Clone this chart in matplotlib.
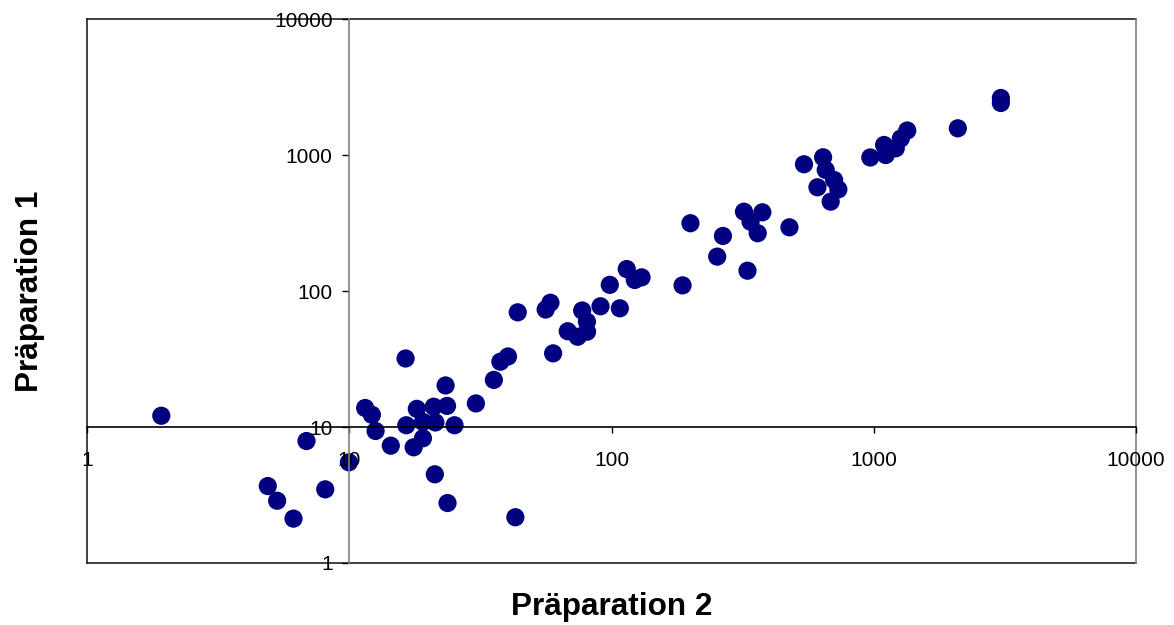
import matplotlib
matplotlib.use("Agg")
import matplotlib.pyplot as plt
from matplotlib.ticker import FixedLocator, FixedFormatter, NullLocator

plt.rcParams['font.family'] = ['Liberation Sans', 'DejaVu Sans']

# Paired measurements: preparation 2 (x) vs preparation 1 (y)
prep2 = [1.92, 4.89, 5.31, 6.13, 6.87, 8.10, 9.97, 11.5, 12.2, 12.6,
         14.4, 16.4, 16.5, 17.6, 18.1, 19.1, 19.1, 21.0, 21.3, 21.2,
         23.3, 23.6, 23.7, 25.2, 30.4, 35.6, 37.7, 40.3, 43.0, 43.9,
         56.1, 58.5, 59.9, 68.1, 74.3, 77.3, 80.6, 80.7, 90.8, 98.5,
         107.6, 114.3, 122.7, 130.2, 186.6, 200, 253, 266, 320, 330,
         339, 376, 361, 477, 542, 641, 656, 706, 610, 733,
         685, 970, 1095, 1111, 1213, 1268, 1342, 2092, 3053, 3053]
prep1 = [12.1, 3.68, 2.87, 2.12, 7.89, 3.48, 5.50, 13.8, 12.3, 9.35,
         7.29, 31.9, 10.3, 7.09, 13.6, 8.26, 10.9, 14.1, 10.8, 4.49,
         20.2, 14.3, 2.76, 10.3, 14.9, 22.2, 30.2, 33.0, 2.17, 69.7,
         73.1, 82.0, 34.8, 50.6, 46.1, 71.9, 59.5, 50.2, 77.2, 111,
         74.6, 145, 120.5, 126, 110, 315, 179, 254, 383, 141,
         323, 379, 266, 294, 855, 962, 776, 655, 579, 559,
         454, 959, 1185, 1000, 1120, 1322, 1514, 1571, 2625, 2412]

ticks = [1, 10, 100, 1000, 10000]
tick_labels = ['1', '10', '100', '1000', '10000']

fig = plt.figure(figsize=(11.74, 6.25), dpi=100)
ax = fig.add_axes([87 / 1174, 1 - 563 / 625, (1136 - 87) / 1174, (563 - 19) / 625])

ax.scatter(prep2, prep1, s=172, color='#000080', edgecolors='none', zorder=1,
           clip_on=False)

ax.set_xscale('log')
ax.set_yscale('log')
ax.set_xlim(1, 10000)
ax.set_ylim(1, 10000)

# Axes cross at (10, 10)
ax.spines['left'].set_position(('data', 10))
ax.spines['bottom'].set_position(('data', 10))
ax.spines['left'].set_color('#808080')
ax.spines['bottom'].set_color('#000000')
for s in ('left', 'bottom'):
    ax.spines[s].set_linewidth(1.2)
ax.spines['top'].set_visible(False)
ax.spines['right'].set_visible(False)

# Plot-area frame
frame_kw = dict(transform=ax.transAxes, clip_on=False, lw=1.2, zorder=0)
ax.plot([0, 0], [0, 1], color='#222222', **frame_kw)
ax.plot([0, 1], [1, 1], color='#222222', **frame_kw)
ax.plot([0, 1], [0, 0], color='#222222', **frame_kw)
ax.plot([1, 1], [0, 1], color='#808080', **frame_kw)

for axis in (ax.xaxis, ax.yaxis):
    axis.set_major_locator(FixedLocator(ticks))
    axis.set_major_formatter(FixedFormatter(tick_labels))
    axis.set_minor_locator(NullLocator())

ax.tick_params(axis='y', direction='out', length=5, width=1, color='#000000',
               pad=7, labelsize=15)
ax.tick_params(axis='x', direction='out', length=4.5, width=1, color='#000000',
               pad=12.5, labelsize=15)

fig.text(612 / 1174, 1 - 607 / 625, 'Präparation 2', ha='center', va='center',
         fontsize=22.7, fontweight='bold')
fig.text(30 / 1174, 1 - 291 / 625, 'Präparation 1', ha='center', va='center',
         rotation=90, fontsize=22.7, fontweight='bold')

fig.savefig('out.png', dpi=100, facecolor='white')
